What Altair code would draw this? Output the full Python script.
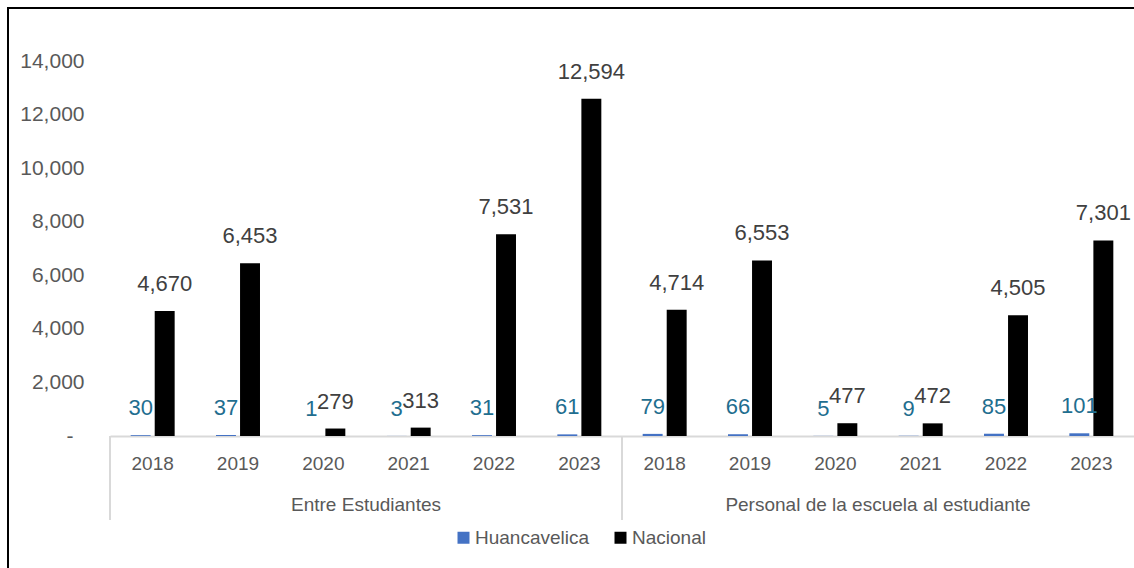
import altair as alt
import pandas as pd

# Violence reports by type and year: Huancavelica vs national totals
tipos = ["Entre Estudiantes", "Personal de la escuela al estudiante"]
anios = [2018, 2019, 2020, 2021, 2022, 2023]
huancavelica = [30, 37, 1, 3, 31, 61, 79, 66, 5, 9, 85, 101]
nacional = [4670, 6453, 279, 313, 7531, 12594, 4714, 6553, 477, 472, 4505, 7301]
series = ["Huancavelica", "Nacional"]
y_ticks = [0, 2000, 4000, 6000, 8000, 10000, 12000, 14000]

FONT = "Liberation Sans"
GRAY = "#595959"
LINE = "#D9D9D9"

keys = [f"{t}|{a}" for t in tipos for a in anios]

rows = []
for i, k in enumerate(keys):
    rows.append({"key": k, "serie": series[0], "value": huancavelica[i]})
    rows.append({"key": k, "serie": series[1], "value": nacional[i]})
df = pd.DataFrame(rows)

x_enc = alt.X(
    "key:N",
    sort=keys,
    scale=alt.Scale(domain=keys, paddingInner=0, paddingOuter=0),
    axis=alt.Axis(
        title=None,
        labelExpr="split(datum.label, '|')[1]",
        labelAngle=0,
        labelAlign="center",
        bandPosition=0.5,
        ticks=False,
        domainColor=LINE,
        domainWidth=2,
        labelFont=FONT,
        labelFontSize=19,
        labelColor=GRAY,
        labelPadding=27,
    ),
)
y_scale = alt.Scale(domain=[0, 14000], nice=False)
x_off = alt.XOffset(
    "serie:N",
    sort=series,
    scale=alt.Scale(domain=series, paddingInner=0.17, paddingOuter=0.86),
)

base = alt.Chart(df)

bars = base.mark_bar().encode(
    x=x_enc,
    xOffset=x_off,
    y=alt.Y(
        "value:Q",
        scale=y_scale,
        axis=alt.Axis(
            title=None,
            values=y_ticks,
            labelExpr="datum.value == 0 ? '-' : format(datum.value, ',')",
            domain=False,
            ticks=False,
            grid=False,
            labelFont=FONT,
            labelFontSize=21,
            labelColor=GRAY,
            labelPadding=alt.condition("datum.value == 0", alt.value(37), alt.value(26)),
        ),
    ),
    color=alt.Color(
        "serie:N",
        scale=alt.Scale(domain=series, range=["#4472C4", "#000000"]),
        legend=alt.Legend(
            title=None,
            orient="none",
            direction="horizontal",
            legendX=344,
            legendY=467,
            symbolType="square",
            symbolSize=144,
            symbolStrokeWidth=0,
            labelFont=FONT,
            labelFontSize=19,
            labelColor=GRAY,
            labelOffset=2,
            columnPadding=21,
            padding=0,
        ),
    ),
)

labels = base.mark_text(
    baseline="bottom", dy=-15, font=FONT, fontSize=22
).encode(
    x=alt.X("key:N", sort=keys),
    xOffset=alt.XOffset("serie:N", sort=series),
    y=alt.Y("value:Q", scale=y_scale),
    text=alt.Text("value:Q", format=","),
    color=alt.condition(
        alt.datum.serie == "Huancavelica", alt.value("#1F6E8F"), alt.value("#404040")
    ),
)

# Group captions under the year labels, centred on each block of six years
grp_df = pd.DataFrame({"key": [f"{t}|2021" for t in tipos], "tipo": tipos})
group_text = alt.Chart(grp_df).mark_text(
    font=FONT, fontSize=19, color=GRAY, baseline="middle"
).encode(
    x=alt.X("key:N", sort=keys, bandPosition=0),
    y=alt.value(444),
    text="tipo:N",
)

# Vertical separators of the two-level category axis
sep_df = pd.DataFrame({"key": [f"{t}|2018" for t in tipos]})
separators = alt.Chart(sep_df).mark_rule(color=LINE, strokeWidth=2).encode(
    x=alt.X("key:N", sort=keys, bandPosition=0),
    y=alt.value(375),
    y2=alt.value(459),
)

# Outer frame of the chart area
frame = alt.Chart(pd.DataFrame({"f": [0]})).mark_rect(
    fillOpacity=0, stroke="black", strokeWidth=2
).encode(
    x=alt.value(-102),
    y=alt.value(-53),
    x2=alt.value(1100),
    y2=alt.value(600),
)

chart = (
    alt.layer(frame, separators, bars, labels, group_text)
    .properties(
        width=1024,
        height=375,
        padding={"left": 110, "top": 61, "right": 0, "bottom": 132},
        autosize="none",
    )
    .configure_view(stroke=None)
)

chart.save("out.html", embed_options={"renderer": "svg", "actions": False})
